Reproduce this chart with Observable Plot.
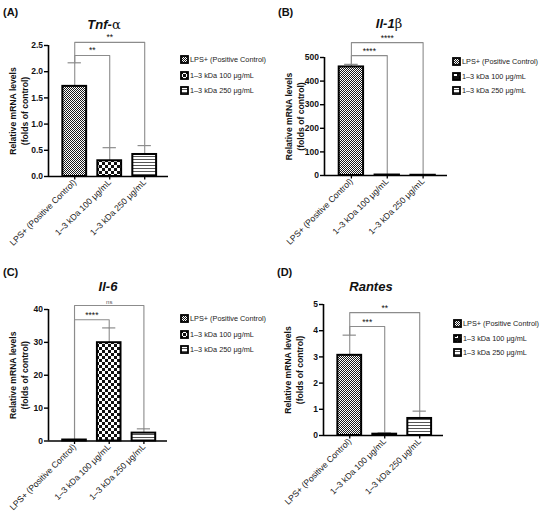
<!DOCTYPE html>
<html>
<head>
<meta charset="utf-8">
<script src="https://cdn.jsdelivr.net/npm/d3@7"></script>
<script src="https://cdn.jsdelivr.net/npm/@observablehq/plot@0.6"></script>
<style>
  html, body { margin: 0; padding: 0; background: #fff; }
  #root { position: relative; width: 550px; height: 518px; overflow: hidden; font-family: "Liberation Sans", Arial, sans-serif; }
  .panel { position: absolute; width: 275px; height: 258px; }
  .lab { position: absolute; font-weight: bold; font-size: 11px; line-height: 11px; color: #111; }
  .ttl { position: absolute; width: 120px; text-align: center; font-size: 13px; line-height: 14px; color: #111; }
  .ttl b { font-style: italic; }
  .ttl .gr { font-family: "DejaVu Serif", "Liberation Serif", serif; font-weight: normal; font-style: normal; }
  .leg { position: absolute; font-size: 7.3px; line-height: 9px; color: #222; white-space: nowrap; }
  .leg svg { position: absolute; left: 0; top: 0; }
  .leg span { position: absolute; left: 10px; top: 0; }
</style>
</head>
<body>
<svg width="0" height="0" style="position:absolute">
  <defs>
    <pattern id="pFine" patternUnits="userSpaceOnUse" width="2" height="2">
      <rect width="2" height="2" fill="#fff"/>
      <rect width="1" height="1" fill="#1a1a1a"/>
      <rect x="1" y="1" width="1" height="1" fill="#1a1a1a"/>
    </pattern>
    <pattern id="pCoarse" patternUnits="userSpaceOnUse" width="6" height="6">
      <rect width="6" height="6" fill="#fff"/>
      <rect width="3" height="3" fill="#111"/>
      <rect x="3" y="3" width="3" height="3" fill="#111"/>
    </pattern>
    <pattern id="pStripe" patternUnits="userSpaceOnUse" width="4" height="3">
      <rect width="4" height="3" fill="#fff"/>
      <rect width="4" height="1" fill="#555"/>
    </pattern>
    <pattern id="pBox" patternUnits="userSpaceOnUse" width="6" height="6">
      <rect width="6" height="6" fill="#111"/>
      <rect x="1" y="2" width="4" height="2" fill="#fff"/>
    </pattern>
    <pattern id="pCup" patternUnits="userSpaceOnUse" width="6" height="6">
      <rect width="6" height="6" fill="#111"/>
      <rect x="1" y="1" width="1" height="3" fill="#fff"/>
      <rect x="4" y="1" width="1" height="3" fill="#fff"/>
      <rect x="1" y="3" width="4" height="1" fill="#fff"/>
    </pattern>
  </defs>
</svg>
<div id="root"></div>
<script>
// ---------- data ----------
const categories = ["LPS+ (Positive Control)", "1–3 kDa 100 μg/mL", "1–3 kDa 250 μg/mL"];
const panelLetters = ["(A)", "(B)", "(C)", "(D)"];
const geneNames = ["Tnf-", "Il-1", "Il-6", "Rantes"];
const geneGreek = ["α", "β", "", ""];

const tnfMeans = [1.72, 0.30, 0.42];
const tnfSD = [0.45, 0.25, 0.17];
const il1bMeans = [460, 2, 1];
const il1bSD = [11, 1, 0.5];
const il6Means = [0.3, 29.9, 2.4];
const il6SD = [0.15, 4.5, 1.3];
const rantesMeans = [3.06, 0.05, 0.65];
const rantesSD = [0.77, 0.05, 0.28];

const tnfTicks = [0, 0.5, 1, 1.5, 2, 2.5];
const il1bTicks = [0, 100, 200, 300, 400, 500];
const il6Ticks = [0, 10, 20, 30, 40];
const rantesTicks = [0, 1, 2, 3, 4, 5];

const bracketPairs = [[0, 1], [0, 2]];
const tnfBracketLevels = [2.31, 2.56];
const tnfBracketLabels = ["**", "**"];
const il1bBracketLevels = [508, 563];
const il1bBracketLabels = ["****", "****"];
const il6BracketLevels = [36.9, 41.2];
const il6BracketLabels = ["****", "ns"];
const rantesBracketLevels = [4.16, 4.69];
const rantesBracketLabels = ["***", "**"];

const yTitle = "Relative mRNA levels\n(folds of control)";
const tnfPatterns = ["url(#pFine)", "url(#pCoarse)", "url(#pStripe)"];
const il1bPatterns = ["url(#pFine)", "url(#pBox)", "url(#pStripe)"];
const il6Patterns = ["url(#pFine)", "url(#pCoarse)", "url(#pStripe)"];
const rantesPatterns = ["url(#pFine)", "url(#pCup)", "url(#pStripe)"];

// ---------- layout (styles, not data) ----------
const xDomain = [-0.75, 2.68];
const barHalf = 0.34, capHalf = 0.19;
const GRAY = "#8c8c8c";

const panels = [
  {means: tnfMeans, sd: tnfSD, ticks: tnfTicks, fmt: d => d.toFixed(1), levels: tnfBracketLevels, labels: tnfBracketLabels, patterns: tnfPatterns,
   left: 0, top: 0, mL: 48, mR: 107, mT: 45, mB: 82, titleX: 44, titleY: 18, legX: 180, legY: [55, 70.5, 86]},
  {means: il1bMeans, sd: il1bSD, ticks: il1bTicks, fmt: d => String(d), levels: il1bBracketLevels, labels: il1bBracketLabels, patterns: il1bPatterns,
   left: 275, top: 0, mL: 49, mR: 103, mT: 57, mB: 83, titleX: 329, titleY: 17, legX: 452, legY: [57, 72, 86]},
  {means: il6Means, sd: il6SD, ticks: il6Ticks, fmt: d => String(d), levels: il6BracketLevels, labels: il6BracketLabels, patterns: il6Patterns,
   left: 0, top: 260, mL: 48, mR: 108, mT: 49, mB: 77.5, titleX: 48, titleY: 280, legX: 180, legY: [314, 330, 345]},
  {means: rantesMeans, sd: rantesSD, ticks: rantesTicks, fmt: d => String(d), levels: rantesBracketLevels, labels: rantesBracketLabels, patterns: rantesPatterns,
   left: 275, top: 260, mL: 48, mR: 107, mT: 44, mB: 83, titleX: 311, titleY: 280, legX: 453, legY: [319, 334, 348]}
];
const labelPos = [[3, 7], [278, 7], [3, 267], [277, 267]];

const root = document.getElementById("root");

panels.forEach((p, k) => {
  const rows = categories.map((c, i) => ({i, cat: c, mean: p.means[i], sd: p.sd[i], top: p.means[i] + p.sd[i], fill: p.patterns[i]}));
  const brackets = bracketPairs.map(([a, b], j) => ({id: j, a, b, level: p.levels[j], label: p.labels[j], mid: (a + b) / 2}));
  const bracketPts = brackets.flatMap(br => [
    {id: br.id, x: br.a, y: rows[br.a].top},
    {id: br.id, x: br.a, y: br.level},
    {id: br.id, x: br.b, y: br.level},
    {id: br.id, x: br.b, y: rows[br.b].top}
  ]);
  const ymax = p.ticks[p.ticks.length - 1];

  const chart = Plot.plot({
    width: 275,
    height: 258,
    marginLeft: p.mL,
    marginRight: p.mR,
    marginTop: p.mT,
    marginBottom: p.mB,
    style: {fontFamily: "'Liberation Sans', Arial, sans-serif", background: "transparent", overflow: "visible"},
    x: {domain: xDomain, axis: null},
    y: {domain: [0, ymax], axis: null},
    color: {type: "identity"},
    marks: [
      Plot.line(bracketPts, {x: "x", y: "y", z: "id", stroke: GRAY, strokeWidth: 1.1}),
      Plot.ruleX(rows, {x: "i", y1: "mean", y2: "top", stroke: GRAY, strokeWidth: 1.1}),
      Plot.ruleY(rows, {y: "top", x1: d => d.i - capHalf, x2: d => d.i + capHalf, stroke: GRAY, strokeWidth: 1.2}),
      Plot.rect(rows, {x1: d => d.i - barHalf, x2: d => d.i + barHalf, y1: 0, y2: "mean", fill: "fill", stroke: "#000", strokeWidth: 2}),
      Plot.text(brackets, {x: "mid", y: "level", text: "label", dy: -2, lineAnchor: "bottom",
        fontWeight: d => d.label === "ns" ? "normal" : "bold", fontSize: d => d.label === "ns" ? 6 : 8.5,
        fill: d => d.label === "ns" ? "#555" : "#111"}),
      Plot.ruleY([0], {stroke: "#000", strokeWidth: 1.6}),
      Plot.ruleX([xDomain[0]], {y1: 0, y2: ymax, stroke: "#000", strokeWidth: 1.6}),
      Plot.axisY({ticks: p.ticks, tickFormat: p.fmt, tickSize: 4, tickPadding: 1.5, fontWeight: "bold", fontSize: 8.5, strokeWidth: 1.4, label: null, fill: "#111"}),
      Plot.axisX({ticks: [0, 1, 2], tickFormat: i => categories[i], tickRotate: -45, tickSize: 3.5, tickPadding: 1, fontSize: 8.6, strokeWidth: 1.3, label: null, fill: "#1a1a1a"}),
      Plot.text([yTitle], {frameAnchor: "left", textAnchor: "middle", lineAnchor: "middle", dx: -30, rotate: -90, fontWeight: "bold", fontSize: 8.6, lineHeight: 1.4, fill: "#111"})
    ]
  });
  const div = document.createElement("div");
  div.className = "panel";
  div.style.left = p.left + "px";
  div.style.top = p.top + "px";
  div.appendChild(chart);
  root.appendChild(div);

  // panel letter
  const lab = document.createElement("div");
  lab.className = "lab";
  lab.style.left = labelPos[k][0] + "px";
  lab.style.top = labelPos[k][1] + "px";
  lab.textContent = panelLetters[k];
  root.appendChild(lab);

  // title
  const t = document.createElement("div");
  t.className = "ttl";
  t.style.left = p.titleX + "px";
  t.style.top = p.titleY + "px";
  const b = document.createElement("b");
  b.textContent = geneNames[k];
  t.appendChild(b);
  if (geneGreek[k]) {
    const g = document.createElement("span");
    g.className = "gr";
    g.textContent = geneGreek[k];
    t.appendChild(g);
  }
  root.appendChild(t);

  // legend
  categories.forEach((c, i) => {
    const item = document.createElement("div");
    item.className = "leg";
    item.style.left = p.legX + "px";
    item.style.top = p.legY[i] + "px";
    item.innerHTML = `<svg width="9" height="9"><rect x="1" y="1" width="7" height="7" fill="${p.patterns[i]}" stroke="#000" stroke-width="1.8"/></svg>`;
    const s = document.createElement("span");
    s.textContent = c;
    item.appendChild(s);
    root.appendChild(item);
  });
});
</script>
</body>
</html>
